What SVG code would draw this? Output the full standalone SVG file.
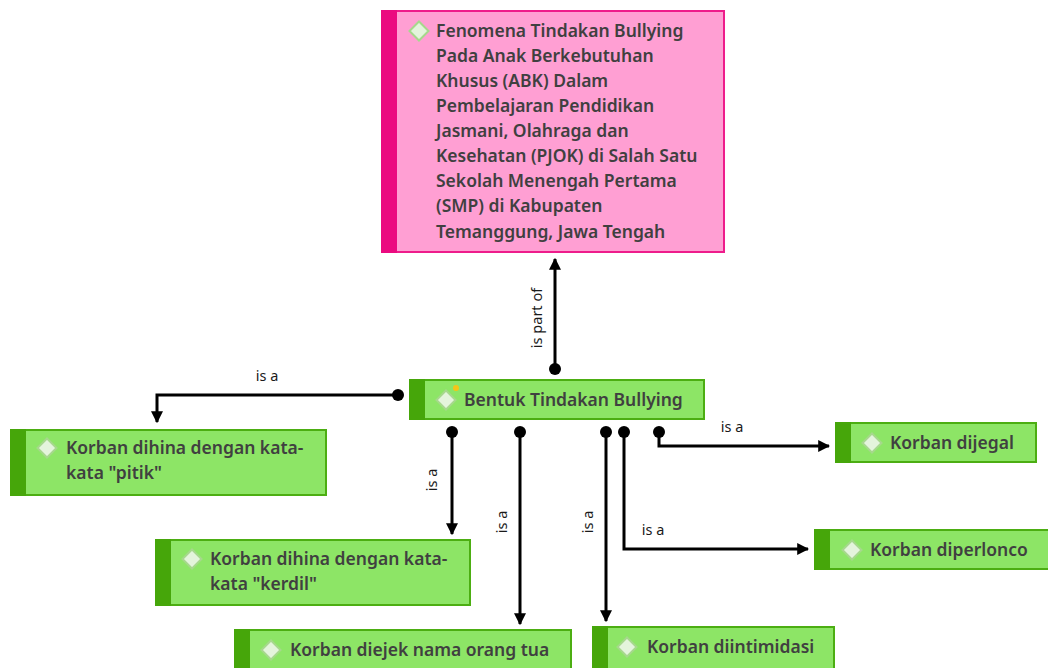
<svg xmlns="http://www.w3.org/2000/svg" width="1048" height="668" viewBox="0 0 1048 668">
<defs>
<style>
.t{font-family:"Noto Sans","Open Sans",sans-serif;font-size:17.5px;font-weight:600;fill:#404040;}
.l{font-family:"Noto Sans","Open Sans",sans-serif;font-size:14.5px;fill:#1a1a1a;}
.g{fill:#8de566;stroke:#4cae12;stroke-width:2;}
.gb{fill:#46a60a;}
.p{fill:#ff9fd3;stroke:#ee1c8b;stroke-width:2;}
.pb{fill:#eb0a80;}
.ic{fill:#e4f4dc;stroke:#a6d88c;stroke-width:2;}
.c{fill:none;stroke:#000;stroke-width:3;}
</style>
<marker id="a" viewBox="0 0 10 10" refX="9" refY="5" markerWidth="4" markerHeight="5" orient="auto" markerUnits="strokeWidth"><path d="M0,0L10,5L0,10z" fill="#000"/></marker>
<marker id="d" viewBox="0 0 10 10" refX="5" refY="5" markerWidth="4" markerHeight="4" orient="auto" markerUnits="strokeWidth"><circle cx="5" cy="5" r="5" fill="#000"/></marker>
<path id="dia" d="M0,-9.5L9.5,0L0,9.5L-9.5,0z"/>
</defs>
<g id="connectors">
<path class="c" d="M555,369V259" marker-start="url(#d)" marker-end="url(#a)"/>
<text class="l" transform="translate(542,318) rotate(-90)" text-anchor="middle">is part of</text>
<path class="c" d="M398,395H157V422" marker-start="url(#d)" marker-end="url(#a)"/>
<text class="l" x="267" y="381" text-anchor="middle">is a</text>
<path class="c" d="M452,432V534" marker-start="url(#d)" marker-end="url(#a)"/>
<text class="l" transform="translate(437,480) rotate(-90)" text-anchor="middle">is a</text>
<path class="c" d="M520,432V624" marker-start="url(#d)" marker-end="url(#a)"/>
<text class="l" transform="translate(507,522) rotate(-90)" text-anchor="middle">is a</text>
<path class="c" d="M606,432V621" marker-start="url(#d)" marker-end="url(#a)"/>
<text class="l" transform="translate(593,522) rotate(-90)" text-anchor="middle">is a</text>
<path class="c" d="M624,432V549H808" marker-start="url(#d)" marker-end="url(#a)"/>
<text class="l" x="653" y="535" text-anchor="middle">is a</text>
<path class="c" d="M659,432V446H829" marker-start="url(#d)" marker-end="url(#a)"/>
<text class="l" x="732" y="432" text-anchor="middle">is a</text>
</g>
<g id="n-main">
<rect class="p" x="382" y="11" width="342" height="241"/>
<rect class="pb" x="381" y="10" width="16" height="243"/>
<use href="#dia" class="ic" x="419" y="31"/>
<text class="t"><tspan x="436" y="37">Fenomena Tindakan Bullying</tspan><tspan x="436" y="62">Pada Anak Berkebutuhan</tspan><tspan x="436" y="87">Khusus (ABK) Dalam</tspan><tspan x="436" y="112">Pembelajaran Pendidikan</tspan><tspan x="436" y="137">Jasmani, Olahraga dan</tspan><tspan x="436" y="162">Kesehatan (PJOK) di Salah Satu</tspan><tspan x="436" y="187">Sekolah Menengah Pertama</tspan><tspan x="436" y="212">(SMP) di Kabupaten</tspan><tspan x="436" y="238">Temanggung, Jawa Tengah</tspan></text>
</g>
<g id="n-bentuk">
<rect class="g" x="410" y="380" width="294" height="39"/>
<rect class="gb" x="409" y="379" width="16" height="41"/>
<use href="#dia" class="ic" x="446" y="400"/>
<circle cx="456" cy="388" r="3" fill="#f5c518"/>
<text class="t" x="464" y="406">Bentuk Tindakan Bullying</text>
</g>
<g id="n-pitik">
<rect class="g" x="11" y="430" width="315" height="65"/>
<rect class="gb" x="10" y="429" width="16" height="67"/>
<use href="#dia" class="ic" x="47" y="448"/>
<text class="t"><tspan x="66" y="454">Korban dihina dengan kata-</tspan><tspan x="66" y="479">kata "pitik"</tspan></text>
</g>
<g id="n-kerdil">
<rect class="g" x="156" y="540" width="314" height="65"/>
<rect class="gb" x="155" y="539" width="16" height="67"/>
<use href="#dia" class="ic" x="192" y="559"/>
<text class="t"><tspan x="210" y="565">Korban dihina dengan kata-</tspan><tspan x="210" y="590">kata "kerdil"</tspan></text>
</g>
<g id="n-diejek">
<rect class="g" x="235" y="630" width="336" height="42"/>
<rect class="gb" x="234" y="629" width="16" height="44"/>
<use href="#dia" class="ic" x="271" y="650"/>
<text class="t" x="290" y="656">Korban diejek nama orang tua</text>
</g>
<g id="n-diintimidasi">
<rect class="g" x="593" y="627" width="241" height="45"/>
<rect class="gb" x="592" y="626" width="16" height="47"/>
<use href="#dia" class="ic" x="627" y="647"/>
<text class="t" x="647" y="653">Korban diintimidasi</text>
</g>
<g id="n-dijegal">
<rect class="g" x="836" y="423" width="200" height="39"/>
<rect class="gb" x="835" y="422" width="16" height="41"/>
<use href="#dia" class="ic" x="872" y="443"/>
<text class="t" x="890" y="449">Korban dijegal</text>
</g>
<g id="n-diperlonco">
<rect class="g" x="815" y="530" width="236" height="39"/>
<rect class="gb" x="814" y="529" width="16" height="41"/>
<use href="#dia" class="ic" x="852" y="550"/>
<text class="t" x="870" y="556">Korban diperlonco</text>
</g>
</svg>
